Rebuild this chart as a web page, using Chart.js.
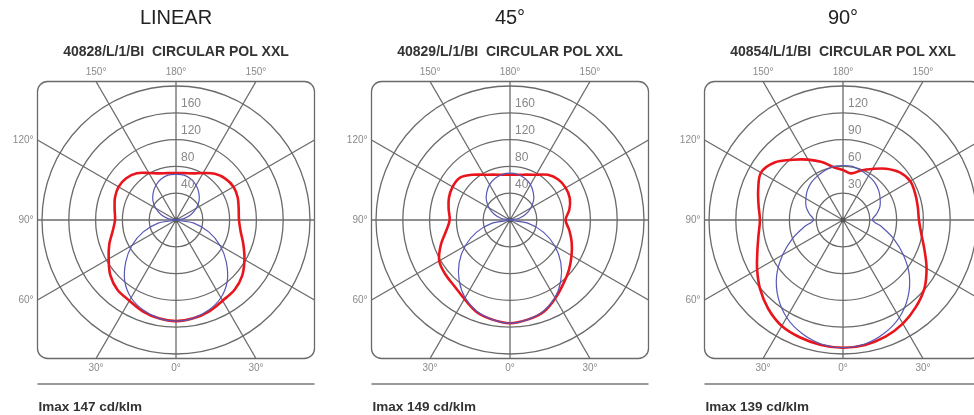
<!DOCTYPE html>
<html>
<head>
<meta charset="utf-8">
<script src="https://cdn.jsdelivr.net/npm/chart.js@4/dist/chart.umd.min.js"></script>
<style>
html, body { margin: 0; padding: 0; background: #fff; overflow: hidden; }
body { width: 974px; height: 415px; position: relative; }
canvas { position: absolute; top: 0; }
</style>
</head>
<body>
<canvas id="c1" width="334" height="415" style="left:9px"></canvas>
<canvas id="c2" width="334" height="415" style="left:343px"></canvas>
<canvas id="c3" width="334" height="415" style="left:676px"></canvas>
<script>
// gamma angles 0..180 (0 = straight down), values in cd/klm
const gamma = [0, 10, 20, 30, 40, 50, 60, 70, 80, 90, 100, 110, 120, 130, 140, 150, 160, 170, 180];

// LINEAR
const linBlue  = [151, 149, 143, 134, 119, 98, 76, 52, 27, 0, 12, 24, 35, 45, 53, 60, 65, 68, 68];
const linRedL  = [151, 149, 145, 139, 136, 128, 116, 106, 96, 91, 93, 97, 99, 97, 91, 81, 74, 71, 70];
const linRedR  = [151, 149, 145, 139, 136, 129, 118, 107, 98, 94, 95, 98, 99, 96, 90, 81, 74, 71, 70];

// 45°
const p45Blue  = [154, 151, 145, 134, 118, 99, 77, 53, 27, 0, 13, 25, 36, 46, 54, 61, 66, 69, 70];
const p45RedL  = [154, 151, 146, 136, 129, 126, 122, 110, 97, 90, 93, 97, 99, 98, 88, 78, 72, 68.5, 67.5];
const p45RedR  = [154, 151, 146, 135, 124, 115, 106, 98, 90, 83, 90, 95, 96, 94, 88, 78, 72, 68.5, 67.5];

// 90°
const p90Blue  = [143, 141, 135, 126, 113, 97, 78, 60, 44, 33, 38, 44, 48, 52, 55, 57, 59, 61, 61];
const p90RedL  = [143, 142, 140, 137, 130, 121, 111, 102, 96, 93, 96, 101, 106, 100, 88, 78, 69, 60, 56];
const p90RedR  = [143, 142, 139, 134, 127, 119, 108, 97, 89, 85, 85, 86, 87, 83, 75, 66, 59, 53, 56];

const titles = ['LINEAR', '45°', '90°'];
const codes = ['40828/L/1/BI  CIRCULAR POL XXL', '40829/L/1/BI  CIRCULAR POL XXL', '40854/L/1/BI  CIRCULAR POL XXL'];
const imaxText = ['Imax 147 cd/klm', 'Imax 149 cd/klm', 'Imax 139 cd/klm'];
const ringSteps = [40, 40, 30];
const angleTicks = [0, 30, 60, 90, 120, 150, 180];
const rightAngleTicks = [30, 150];

const gridColor = '#6a6a6a';
const blueColor = '#5757b6';
const redColor = '#e8161c';

// radar labels go clockwise from the top (gamma 180), right side first
function toRadar(left, right) {
    const out = [];
    for (let i = 0; i < 36; i++) {
        out.push(i <= 18 ? right[18 - i] : left[i - 18]);
    }
    return out;
}

const polarFrame = {
    id: 'polarFrame',
    beforeDatasetsDraw(chart) {
        const s = chart.scales.r;
        const ctx = chart.ctx;
        const cx = s.xCenter, cy = s.yCenter;
        const h = s.drawingArea + 4.5;
        ctx.save();
        ctx.strokeStyle = gridColor;
        ctx.lineWidth = 1.3;
        // rounded frame
        const r = 10, x0 = cx - h, y0 = cy - h, x1 = cx + h, y1 = cy + h;
        ctx.beginPath();
        ctx.moveTo(x0 + r, y0);
        ctx.arcTo(x1, y0, x1, y1, r);
        ctx.arcTo(x1, y1, x0, y1, r);
        ctx.arcTo(x0, y1, x0, y0, r);
        ctx.arcTo(x0, y0, x1, y0, r);
        ctx.closePath();
        ctx.stroke();
        // spokes every 30 degrees out to the frame
        for (let k = 0; k < 12; k++) {
            const a = k * Math.PI / 6;
            const dx = Math.sin(a), dy = -Math.cos(a);
            const t = h / Math.max(Math.abs(dx), Math.abs(dy));
            ctx.beginPath();
            ctx.moveTo(cx, cy);
            ctx.lineTo(cx + dx * t, cy + dy * t);
            ctx.stroke();
        }
        ctx.fillStyle = '#555';
        ctx.beginPath();
        ctx.arc(cx, cy, 2.5, 0, Math.PI * 2);
        ctx.fill();
        ctx.restore();
    },
    afterDraw(chart, args, opts) {
        const s = chart.scales.r;
        const ctx = chart.ctx;
        const cx = s.xCenter, cy = s.yCenter;
        const h = s.drawingArea + 4.5;
        ctx.save();

        // ring values
        ctx.font = '12px "Liberation Sans", Arial, sans-serif';
        ctx.fillStyle = '#888';
        ctx.textAlign = 'left';
        ctx.textBaseline = 'middle';
        s.ticks.forEach(tk => {
            if (tk.value <= 0 || tk.value >= s.max) return;
            const d = s.getDistanceFromCenterForValue(tk.value);
            ctx.fillText(String(tk.value), cx + 5, cy - d - 9);
        });

        // angle labels at the frame
        ctx.font = '10px "Liberation Sans", Arial, sans-serif';
        ctx.fillStyle = '#8a8a8a';
        const put = (g, side) => {
            const rad = g * Math.PI / 180;
            const dx = side * Math.sin(rad), dy = Math.cos(rad);
            const t = h / Math.max(Math.abs(dx), Math.abs(dy));
            const ex = cx + dx * t, ey = cy + dy * t;
            if (Math.abs(dy) >= Math.abs(dx) - 1e-6) {
                ctx.textAlign = 'center';
                ctx.fillText(g + '°', ex, ey + (dy > 0 ? 10 : -9));
            } else {
                ctx.textAlign = 'right';
                ctx.fillText(g + '°', ex - 4, ey);
            }
        };
        angleTicks.forEach(g => put(g, -1));
        rightAngleTicks.forEach(g => put(g, 1));

        // titles
        ctx.textAlign = 'center';
        ctx.fillStyle = '#222';
        ctx.font = '20px "Liberation Sans", Arial, sans-serif';
        ctx.fillText(opts.title, cx, cy - 202);
        ctx.fillStyle = '#333';
        ctx.font = 'bold 14px "Liberation Sans", Arial, sans-serif';
        ctx.fillText(opts.code, cx, cy - 168);

        // rule and Imax
        ctx.strokeStyle = '#999';
        ctx.lineWidth = 2;
        ctx.beginPath();
        ctx.moveTo(cx - h, cy + 164);
        ctx.lineTo(cx + h, cy + 164);
        ctx.stroke();
        ctx.textAlign = 'left';
        ctx.fillStyle = '#333';
        ctx.font = 'bold 13.5px "Liberation Sans", Arial, sans-serif';
        ctx.fillText(opts.imax, cx - h + 1, cy + 187);
        ctx.restore();
    }
};

function makePanel(id, idx, blue, redL, redR) {
    const step = ringSteps[idx];
    const labels = [];
    for (let i = 0; i < 36; i++) labels.push(String(i * 10));
    return new Chart(document.getElementById(id), {
        type: 'radar',
        data: {
            labels: labels,
            datasets: [{
                label: 'C0-C180',
                data: toRadar(blue, blue),
                borderColor: blueColor,
                borderWidth: 1.2,
                fill: false,
                pointRadius: 0
            }, {
                label: 'C90-C270',
                data: toRadar(redL, redR),
                borderColor: redColor,
                borderWidth: 2.6,
                fill: false,
                pointRadius: 0
            }]
        },
        options: {
            responsive: false,
            animation: false,
            layout: { padding: { left: 33, right: 33, top: 86, bottom: 61 } },
            elements: { line: { tension: 0.35, borderJoinStyle: 'round' } },
            plugins: {
                legend: { display: false },
                tooltip: { enabled: false },
                polarFrame: { title: titles[idx], code: codes[idx], imax: imaxText[idx] }
            },
            scales: {
                r: {
                    min: 0,
                    max: step * 5,
                    startAngle: 0,
                    ticks: { display: false, stepSize: step },
                    grid: { circular: true, color: gridColor, lineWidth: 1.3 },
                    angleLines: { display: false },
                    pointLabels: { display: false }
                }
            }
        },
        plugins: [polarFrame]
    });
}

makePanel('c1', 0, linBlue, linRedL, linRedR);
makePanel('c2', 1, p45Blue, p45RedL, p45RedR);
makePanel('c3', 2, p90Blue, p90RedL, p90RedR);
</script>
</body>
</html>
